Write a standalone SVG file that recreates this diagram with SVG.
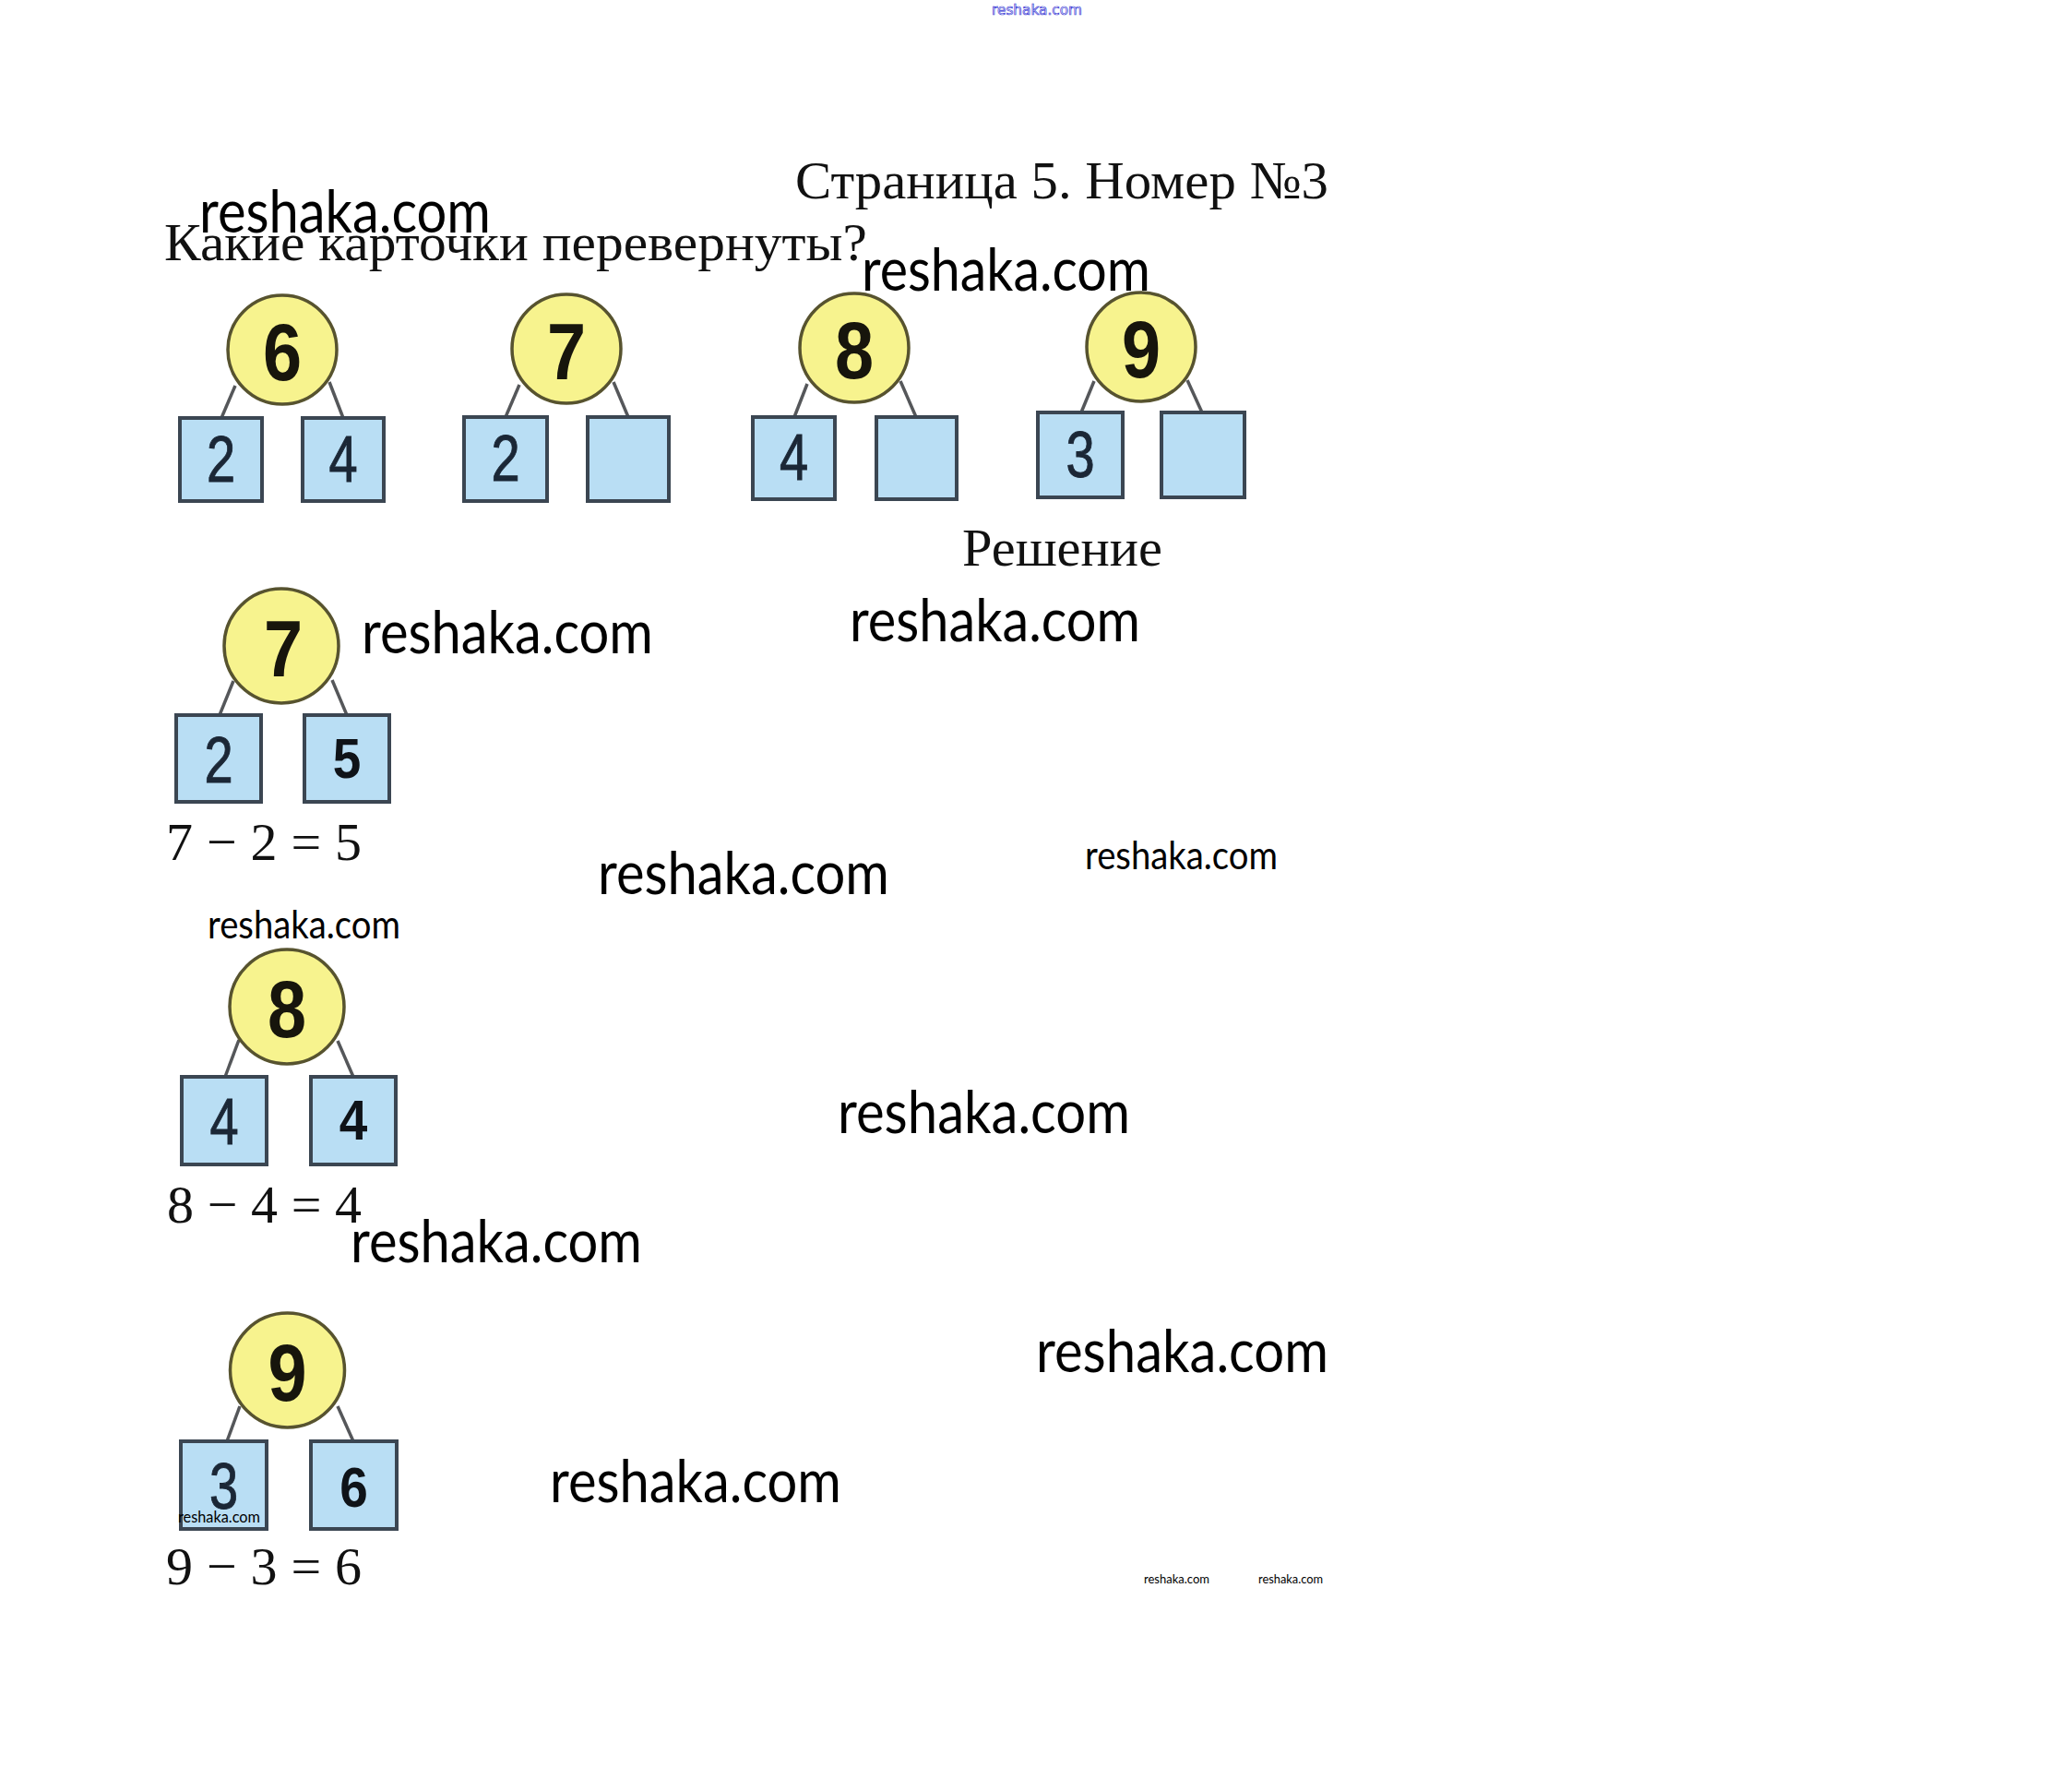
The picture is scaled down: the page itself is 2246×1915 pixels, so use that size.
<svg xmlns="http://www.w3.org/2000/svg" width="2246" height="1915" viewBox="0 0 2246 1915">
<style>
.bg{fill:#ffffff}
.circ{fill:#f7f38e;stroke:#57532f;stroke-width:3.5}
.box{fill:#b9def4;stroke:#3b4652;stroke-width:4}
.ln{stroke:#55575a;stroke-width:3.5;fill:none}
.cd{font-family:"Liberation Sans",Arial,sans-serif;font-weight:bold;font-size:88px;fill:#17150c;text-anchor:middle}
.bd{font-family:"Liberation Sans",Arial,sans-serif;font-size:70px;fill:#1b2736;stroke:#1b2736;stroke-width:1;text-anchor:middle}
.bdb{font-family:"Liberation Sans",Arial,sans-serif;font-weight:bold;font-size:61px;fill:#0f1318;text-anchor:middle}
.ser{font-family:"Liberation Serif","Times New Roman",serif;font-size:58px;fill:#111}
.eq{font-family:"Liberation Serif","Times New Roman",serif;font-size:58px;fill:#111}
.wm{font-family:Lato,"Open Sans",sans-serif;fill:#000}
.wmb{font-size:64px}
.wmm{font-size:42px}
.wms{font-size:18px}
.wmt{font-size:14px}
</style>
<rect class="bg" x="0" y="0" width="2246" height="1915"/>

<g id="texts">
<text x="1075" y="16" font-family="DejaVu Sans,sans-serif" font-size="15" fill="#ffffff" stroke="#3b3bd6" stroke-width="0.7" textLength="98" lengthAdjust="spacingAndGlyphs">reshaka.com</text>
<text class="ser" x="862" y="215" textLength="578" lengthAdjust="spacingAndGlyphs">Страница 5. Номер №3</text>
<text class="ser" x="178" y="282" textLength="762" lengthAdjust="spacingAndGlyphs">Какие карточки перевернуты?</text>
<text class="ser" x="1043" y="613" textLength="217" lengthAdjust="spacingAndGlyphs">Решение</text>
<text class="eq" x="180" y="932" textLength="212" lengthAdjust="spacing">7 − 2 = 5</text>
<text class="eq" x="181" y="1325" textLength="211" lengthAdjust="spacing">8 − 4 = 4</text>
<text class="eq" x="180" y="1717" textLength="212" lengthAdjust="spacing">9 − 3 = 6</text>
</g>

<g id="connectors">
<line class="ln" x1="255" y1="418" x2="240" y2="453"/>
<line class="ln" x1="357" y1="414" x2="372" y2="453"/>
<line class="ln" x1="563" y1="417" x2="548" y2="452"/>
<line class="ln" x1="665" y1="414" x2="681" y2="452"/>
<line class="ln" x1="875" y1="416" x2="861" y2="452"/>
<line class="ln" x1="976" y1="413" x2="993" y2="452"/>
<line class="ln" x1="1186" y1="413" x2="1172" y2="447"/>
<line class="ln" x1="1287" y1="412" x2="1303" y2="447"/>
<line class="ln" x1="253" y1="738" x2="238" y2="775"/>
<line class="ln" x1="360" y1="737" x2="376" y2="775"/>
<line class="ln" x1="259" y1="1127" x2="244" y2="1167"/>
<line class="ln" x1="366" y1="1128" x2="383" y2="1167"/>
<line class="ln" x1="260" y1="1524" x2="246" y2="1562"/>
<line class="ln" x1="366" y1="1524" x2="383" y2="1562"/>
</g>

<g id="q6">
<circle class="circ" cx="306" cy="379" r="59"/>
<text class="cd" transform="translate(306,412) scale(0.86,1)">6</text>
<rect class="box" x="195" y="453" width="89" height="90"/>
<text class="bd" transform="translate(239.5,522) scale(0.8,1)">2</text>
<rect class="box" x="328" y="453" width="88" height="90"/>
<text class="bd" transform="translate(372,522) scale(0.8,1)">4</text>
</g>

<g id="q7">
<circle class="circ" cx="614" cy="378" r="59"/>
<text class="cd" transform="translate(614,411) scale(0.86,1)">7</text>
<rect class="box" x="503" y="452" width="90" height="91"/>
<text class="bd" transform="translate(548,521) scale(0.8,1)">2</text>
<rect class="box" x="637" y="452" width="88" height="91"/>
</g>

<g id="q8">
<circle class="circ" cx="926" cy="377" r="59"/>
<text class="cd" transform="translate(926,410) scale(0.86,1)">8</text>
<rect class="box" x="816" y="452" width="89" height="89"/>
<text class="bd" transform="translate(860.5,520) scale(0.8,1)">4</text>
<rect class="box" x="950" y="452" width="87" height="89"/>
</g>

<g id="q9">
<circle class="circ" cx="1237" cy="376" r="59"/>
<text class="cd" transform="translate(1237,409) scale(0.86,1)">9</text>
<rect class="box" x="1125" y="447" width="92" height="92"/>
<text class="bd" transform="translate(1171,517) scale(0.8,1)">3</text>
<rect class="box" x="1259" y="447" width="90" height="92"/>
</g>

<g id="a7">
<circle class="circ" cx="305" cy="700" r="62"/>
<text class="cd" transform="translate(307,733) scale(0.86,1)">7</text>
<rect class="box" x="191" y="775" width="92" height="94"/>
<text class="bd" transform="translate(237,848) scale(0.8,1)">2</text>
<rect class="box" x="330" y="775" width="92" height="94"/>
<text class="bdb" transform="translate(376,843) scale(0.9,1)">5</text>
</g>

<g id="a8">
<circle class="circ" cx="311" cy="1091" r="62"/>
<text class="cd" transform="translate(311,1124) scale(0.86,1)">8</text>
<rect class="box" x="197" y="1167" width="92" height="95"/>
<text class="bd" transform="translate(243,1240) scale(0.8,1)">4</text>
<rect class="box" x="337" y="1167" width="92" height="95"/>
<text class="bdb" transform="translate(383,1235) scale(0.9,1)">4</text>
</g>

<g id="a9">
<circle class="circ" cx="311.5" cy="1485" r="62"/>
<text class="cd" transform="translate(311.5,1518) scale(0.86,1)">9</text>
<rect class="box" x="196" y="1562" width="93" height="95"/>
<text class="bd" transform="translate(242.5,1635) scale(0.8,1)">3</text>
<rect class="box" x="337" y="1562" width="93" height="95"/>
<text class="bdb" transform="translate(383.5,1633) scale(0.9,1)">6</text>
</g>

<g id="watermarks">
<text class="wm wmb" x="216" y="252" textLength="316" lengthAdjust="spacingAndGlyphs">reshaka.com</text>
<text class="wm wmb" x="934" y="315" textLength="313" lengthAdjust="spacingAndGlyphs">reshaka.com</text>
<text class="wm wmb" x="392" y="708" textLength="316" lengthAdjust="spacingAndGlyphs">reshaka.com</text>
<text class="wm wmb" x="921" y="695" textLength="315" lengthAdjust="spacingAndGlyphs">reshaka.com</text>
<text class="wm wmb" x="648" y="969" textLength="316" lengthAdjust="spacingAndGlyphs">reshaka.com</text>
<text class="wm wmm" x="1176" y="942" textLength="209" lengthAdjust="spacingAndGlyphs">reshaka.com</text>
<text class="wm wmm" x="225" y="1017" textLength="209" lengthAdjust="spacingAndGlyphs">reshaka.com</text>
<text class="wm wmb" x="908" y="1228" textLength="317" lengthAdjust="spacingAndGlyphs">reshaka.com</text>
<text class="wm wmb" x="380" y="1368" textLength="316" lengthAdjust="spacingAndGlyphs">reshaka.com</text>
<text class="wm wmb" x="1123" y="1487" textLength="317" lengthAdjust="spacingAndGlyphs">reshaka.com</text>
<text class="wm wmb" x="596" y="1628" textLength="316" lengthAdjust="spacingAndGlyphs">reshaka.com</text>
<text class="wm wms" x="193" y="1650" textLength="89" lengthAdjust="spacingAndGlyphs">reshaka.com</text>
<text class="wm wmt" x="1240" y="1716" textLength="71" lengthAdjust="spacingAndGlyphs">reshaka.com</text>
<text class="wm wmt" x="1364" y="1716" textLength="70" lengthAdjust="spacingAndGlyphs">reshaka.com</text>
</g>
</svg>
